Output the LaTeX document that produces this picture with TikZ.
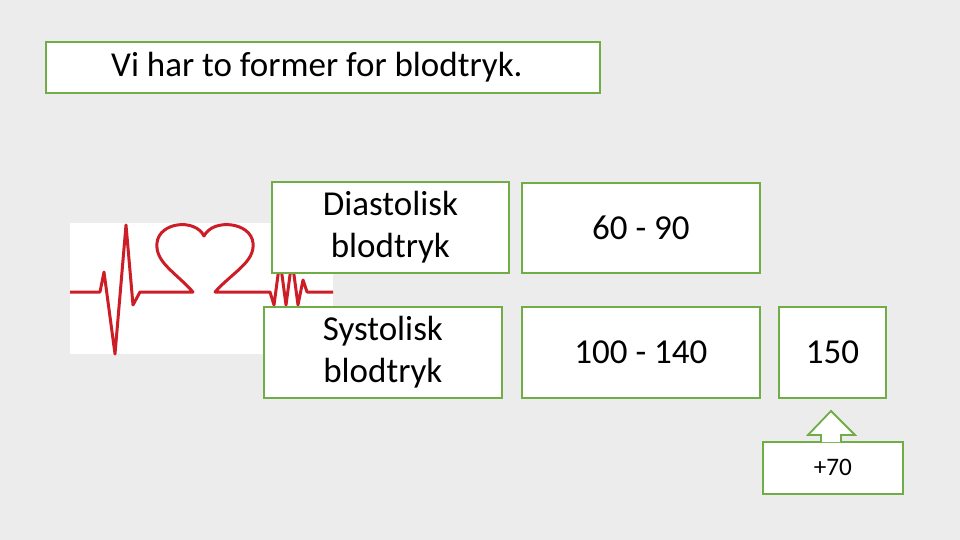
\documentclass[tikz,border=0pt]{standalone}
\usepackage{fontspec}
\setmainfont{Carlito}
\definecolor{bg}{RGB}{236,236,236}
\definecolor{gr}{RGB}{112,173,71}
\definecolor{ecg}{RGB}{205,30,40}
\begin{document}
\begin{tikzpicture}[x=1pt,y=-1pt,
  box/.style={draw=gr,line width=1.8pt,fill=white,inner sep=0pt,anchor=north west,align=center,font=\fontsize{35}{42}\selectfont}]
\fill[bg] (0,0) rectangle (960,540);
\useasboundingbox (0,0) rectangle (960,540);
% image
\fill[white] (70,223) rectangle (333,354);
\draw[ecg,line width=3pt,line join=round] (70,292) -- (100,292) -- (104,272) -- (115,354) -- (126,225) -- (133,305) -- (140,292) -- (193,292)
  .. controls (175,272) and (155,262) .. (157,243) .. controls (159,222) and (195,218) .. (204,236)
  .. controls (213,218) and (251,222) .. (253,243) .. controls (255,262) and (233,272) .. (215,292)
  -- (270,292) -- (274,305) -- (280,260) -- (286,305) -- (292,260) -- (298,305) -- (303,280) -- (307,292) -- (333,292);
\node[box,minimum width=554pt,minimum height=51pt] (t) at (45,41) {Vi har to former for blodtryk.\hspace*{12pt}};
\node[box,text width=237pt,minimum height=91pt] (d) at (271,181) {Diastolisk\\blodtryk};
\node[box,minimum width=238pt,minimum height=90pt] (dv) at (521,182) {60 - 90};
\node[box,text width=238pt,minimum height=91pt] (s) at (263,306) {Systolisk\\blodtryk};
\node[box,minimum width=238pt,minimum height=91pt] (sv) at (521,306) {100 - 140};
\node[box,minimum width=107pt,minimum height=91pt] (h) at (778,306) {150};
\node[box,minimum width=140pt,minimum height=52pt] (plus) at (762,441) {\scalebox{0.72}{+70}};
\draw[gr,line width=1.8pt,fill=white,line join=miter] (821,442) -- (821,435) -- (808,435) -- (831,411) -- (855,435) -- (841,435) -- (841,442);
\end{tikzpicture}
\end{document}
